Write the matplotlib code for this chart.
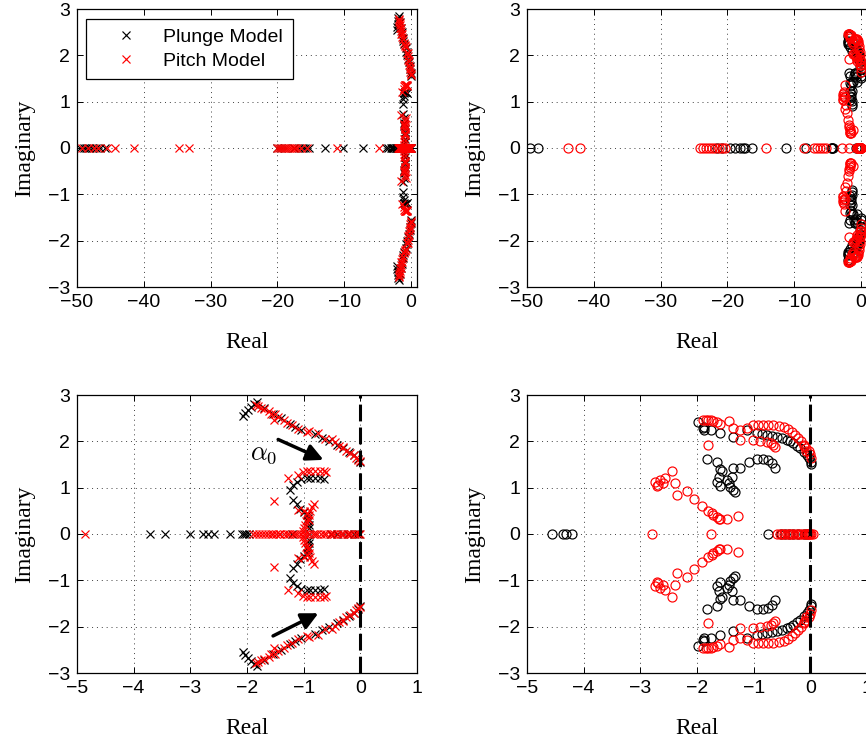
import matplotlib
matplotlib.use("Agg")
import matplotlib.pyplot as plt
import numpy as np

# ---------------- DATA ----------------
# Poles (left column): real-axis poles
plunge_pole_real = [-49.5, -49.0, -48.6, -48.2, -47.7, -47.2, -46.5, -45.8,
                    -20.0, -19.5, -18.8, -17.5, -16.8, -16.2, -15.8, -15.3,
                    -12.9, -10.15, -7.15, -3.71, -3.45, -3.01, -2.77, -2.68,
                    -2.59, -2.30, -2.09, -2.05, -2.01, -1.97, -1.2, -0.9,
                    -0.52, -0.41, -0.3, -0.21, -0.12, -0.06, -0.02]
pitch_pole_real = [-49.2, -48.4, -47.5, -46.8, -45.5, -44.3, -41.45, -34.7, -33.3,
                   -20.0, -19.7, -19.4, -19.1, -18.8, -18.5, -18.2, -17.9, -17.6,
                   -17.3, -17.0, -16.5, -15.5, -11.05, -4.86,
                   -1.89, -1.84, -1.78, -1.74, -1.69, -1.63, -1.58, -1.55, -1.49,
                   -1.44, -1.41, -1.35, -1.29, -1.26, -1.19, -1.15, -1.11, -1.04,
                   -1.0, -0.96, -0.9, -0.84, -0.8, -0.76, -0.69, -0.65, -0.61,
                   -0.54, -0.5, -0.46, -0.39, -0.35, -0.31, -0.24, -0.2, -0.16,
                   -0.09, -0.05, 0.0]

# Poles (left column): complex poles, upper half (conjugates mirrored)
plunge_pole_re = [-2.07, -2.03, -1.98, -1.93, -1.88, -1.82, -1.70, -1.55, -1.40,
                  -1.25, -1.15, -1.05, -0.80, -0.68, -0.55, -0.42, -0.30, -0.20,
                  -0.12, -0.05, 0.0,
                  -1.24, -1.18, -1.12, -1.05, -0.95, -0.88, -0.80, -0.72, -0.64,
                  -1.18, -1.12, -1.06, -1.00, -0.95, -0.93, -0.92, -0.90, -0.90]
plunge_pole_im = [2.55, 2.62, 2.68, 2.74, 2.80, 2.84, 2.72, 2.60, 2.50,
                  2.38, 2.30, 2.25, 2.15, 2.08, 2.00, 1.93, 1.85, 1.76,
                  1.70, 1.62, 1.56,
                  0.95, 1.05, 1.12, 1.18, 1.20, 1.20, 1.20, 1.20, 1.19,
                  0.73, 0.65, 0.55, 0.48, 0.42, 0.35, 0.28, 0.20, 0.12]
pitch_pole_re = [-1.85, -1.80, -1.75, -1.70, -1.62, -1.58, -1.50, -1.45, -1.52,
                 -1.35, -1.30, -1.20, -1.10, -0.95, -0.90, -0.75, -0.62, -0.50,
                 -0.45, -0.38, -0.30, -0.25, -0.18, -0.12, -0.08, -0.04, -0.01,
                 -1.10, -1.02, -0.95, -0.88, -0.80, -0.72, -0.65, -0.60,
                 -1.28, -1.52,
                 -0.82, -0.86, -1.10, -1.00, -0.95, -0.88, -0.90, -0.93, -0.96,
                 -0.98, -1.00, -1.02, -0.90]
pitch_pole_im = [2.78, 2.76, 2.73, 2.70, 2.65, 2.60, 2.58, 2.52, 2.47,
                 2.45, 2.40, 2.35, 2.27, 2.20, 2.22, 2.18, 2.05, 2.05,
                 1.98, 1.90, 1.88, 1.80, 1.75, 1.70, 1.65, 1.60, 1.57,
                 1.28, 1.33, 1.35, 1.35, 1.35, 1.35, 1.35, 1.33,
                 1.20, 0.72,
                 0.65, 0.58, 0.52, 0.50, 0.45, 0.50, 0.40, 0.33, 0.27,
                 0.20, 0.12, 0.06, 0.30]

# Zeros (right column): real-axis zeros
plunge_zero_real = [-49.55, -48.3, -21.55, -20.8, -19.55, -18.8, -18.05, -17.6,
                    -17.3, -16.3, -11.3, -8.3, -4.56, -4.36, -4.32, -4.21,
                    -0.74, -0.52, -0.45, -0.38, -0.30, -0.22, -0.12, -0.05]
pitch_zero_real = [-43.8, -42.05, -24.05, -23.6, -23.2, -22.8, -22.3, -21.8,
                   -21.3, -20.8, -20.3, -14.2, -8.55, -7.05, -6.6, -6.1, -5.7,
                   -5.3, -2.80, -1.76, -0.58, -0.54, -0.50, -0.46, -0.42, -0.38,
                   -0.34, -0.30, -0.26, -0.22, -0.18, -0.14, -0.10, -0.07, -0.04,
                   -0.02, 0.0, 0.02, 0.04]

# Zeros (right column): complex zeros, upper half (conjugates mirrored)
plunge_zero_re = [-1.98, -1.89, -1.88, -1.87, -1.75, -1.59, -1.36, -1.12, -0.95,
                  -0.86, -0.77, -0.68, -0.59, -0.50, -0.42, -0.36, -0.30, -0.24,
                  -0.18, -0.12, -0.06, -0.02, 0.02, 0.02,
                  -1.83, -1.65, -1.59, -1.56, -1.62, -1.65, -1.59, -1.47, -1.44,
                  -1.41, -1.36, -1.33, -1.39, -1.36, -1.24, -1.09, -0.95, -0.83,
                  -0.74, -0.68, -0.62]
plunge_zero_im = [2.42, 2.28, 2.25, 2.30, 2.25, 2.17, 2.10, 2.24, 2.17,
                  2.15, 2.14, 2.12, 2.10, 2.07, 2.03, 2.00, 1.96, 1.91,
                  1.85, 1.78, 1.70, 1.63, 1.56, 1.52,
                  1.62, 1.56, 1.41, 1.35, 1.24, 1.13, 1.04, 1.17, 1.10,
                  1.01, 0.95, 0.91, 1.24, 1.42, 1.42, 1.56, 1.62, 1.62,
                  1.60, 1.53, 1.42]
pitch_zero_re = [-1.89, -1.85, -1.80, -1.75, -1.71, -1.65, -1.59, -1.44, -1.36,
                 -1.24, -1.12, -1.01, -0.92, -0.83, -0.74, -0.65, -0.56, -0.47,
                 -0.40, -0.33, -0.27, -0.21, -0.16, -0.12, -0.07, -0.03, 0.0, 0.02,
                 -1.80, -1.24, -1.01, -0.89, -0.77, -0.70, -0.65, -0.62, -0.12, -0.08,
                 -2.74, -2.71, -2.65, -2.56, -2.45, -2.38, -2.36, -2.18, -2.06,
                 -1.92, -1.80, -1.74, -1.71, -1.65, -1.61, -1.59, -1.47, -1.27,
                 -2.68, -2.60]
pitch_zero_im = [2.45, 2.47, 2.46, 2.45, 2.44, 2.42, 2.38, 2.43, 2.28,
                 2.24, 2.28, 2.35, 2.36, 2.35, 2.35, 2.35, 2.33, 2.31,
                 2.27, 2.21, 2.14, 2.07, 2.00, 1.93, 1.86, 1.79, 1.72, 1.64,
                 1.92, 2.02, 2.02, 2.01, 1.99, 1.96, 1.93, 1.87, 1.90, 1.80,
                 1.13, 1.03, 1.17, 1.20, 1.35, 1.10, 0.85, 0.92, 0.75,
                 0.60, 0.50, 0.45, 0.42, 0.36, 0.33, 0.32, 0.32, 0.38,
                 1.05, 1.10]

legend_labels = ["Plunge Model", "Pitch Model"]
wide_xticks = [-50, -40, -30, -20, -10, 0]
zoom_xticks = [-5, -4, -3, -2, -1, 0, 1]
yticks = [-3, -2, -1, 0, 1, 2, 3]

# ---------------- STYLE ----------------
SANS = ["Liberation Sans", "DejaVu Sans"]
SERIF = ["Liberation Serif", "DejaVu Serif"]
plt.rcParams["font.family"] = SANS
plt.rcParams["mathtext.fontset"] = "cm"

W, H = 866, 742
fig = plt.figure(figsize=(W / 100, H / 100), dpi=100)


def ax_rect(x0, y0, x1, y1):
    return [x0 / W, 1 - y1 / H, (x1 - x0) / W, (y1 - y0) / H]


def style_axes(ax, xlim, xticks):
    ax.set_xlim(*xlim)
    ax.set_ylim(-3, 3)
    ax.set_xticks(xticks)
    ax.set_yticks(yticks)
    ax.grid(True, color="0.25", linestyle=(0, (1, 4)), linewidth=0.7)
    ax.tick_params(direction="in", top=True, right=True, length=4,
                   width=0.7, labelsize=14, pad=5)
    for s in ax.spines.values():
        s.set_linewidth(0.9)
    ax.set_xlabel("Real", family=SERIF, fontsize=17, labelpad=15)
    ax.set_ylabel("Imaginary", family=SERIF, fontsize=17, labelpad=9)


def draw(ax, real_b, re_b, im_b, real_r, re_r, im_r, marker):
    kw = dict(linestyle="none", marker=marker)
    if marker == "x":
        kw.update(markersize=5.5, markeredgewidth=0.85)
    else:
        kw.update(markersize=6.5, markeredgewidth=0.85, markerfacecolor="none")
    hb = ax.plot(real_b, np.zeros(len(real_b)), color="k", **kw)[0]
    ax.plot(re_b, im_b, color="k", **kw)
    ax.plot(re_b, -np.asarray(im_b), color="k", **kw)
    hr = ax.plot(real_r, np.zeros(len(real_r)), color="r", **kw)[0]
    ax.plot(re_r, im_r, color="r", **kw)
    ax.plot(re_r, -np.asarray(im_r), color="r", **kw)
    return hb, hr


ax1 = fig.add_axes(ax_rect(77, 9, 417, 287))
ax2 = fig.add_axes(ax_rect(527, 9, 867, 287))
ax3 = fig.add_axes(ax_rect(77, 395, 417, 673))
ax4 = fig.add_axes(ax_rect(527, 395, 867, 673))

hb, hr = draw(ax1, plunge_pole_real, plunge_pole_re, plunge_pole_im,
              pitch_pole_real, pitch_pole_re, pitch_pole_im, "x")
draw(ax3, plunge_pole_real, plunge_pole_re, plunge_pole_im,
     pitch_pole_real, pitch_pole_re, pitch_pole_im, "x")
draw(ax2, plunge_zero_real, plunge_zero_re, plunge_zero_im,
     pitch_zero_real, pitch_zero_re, pitch_zero_im, "o")
draw(ax4, plunge_zero_real, plunge_zero_re, plunge_zero_im,
     pitch_zero_real, pitch_zero_re, pitch_zero_im, "o")

style_axes(ax1, (-50, 0.9), wide_xticks)
style_axes(ax2, (-50, 0.9), wide_xticks)
style_axes(ax3, (-5, 1), zoom_xticks)
style_axes(ax4, (-5, 1), zoom_xticks)

for ax in (ax3, ax4):
    ax.axvline(0, color="k", linewidth=2.2, linestyle=(0, (5.5, 2)), zorder=5)

leg = ax1.legend([hb, hr], legend_labels, loc="upper left",
                 bbox_to_anchor=(0.027, 0.965), fontsize=14, frameon=True,
                 fancybox=False, edgecolor="k", framealpha=1,
                 handlelength=3.1, handletextpad=0.36, borderpad=0.5,
                 labelspacing=0.3, borderaxespad=0)
leg.get_frame().set_linewidth(0.9)

# arrows and alpha_0 label
arrow = dict(arrowstyle="-|>", color="k", lw=2.5, mutation_scale=25,
             shrinkA=0, shrinkB=0)
ax3.annotate("", xy=(-0.65, 1.60), xytext=(-1.45, 2.04), arrowprops=arrow)
ax3.annotate("", xy=(-0.74, -1.71), xytext=(-1.54, -2.20), arrowprops=arrow)
ax3.text(-1.70, 1.72, r"$\alpha_0$", fontsize=19, ha="center", va="center")

fig.savefig("out.png", dpi=100)
